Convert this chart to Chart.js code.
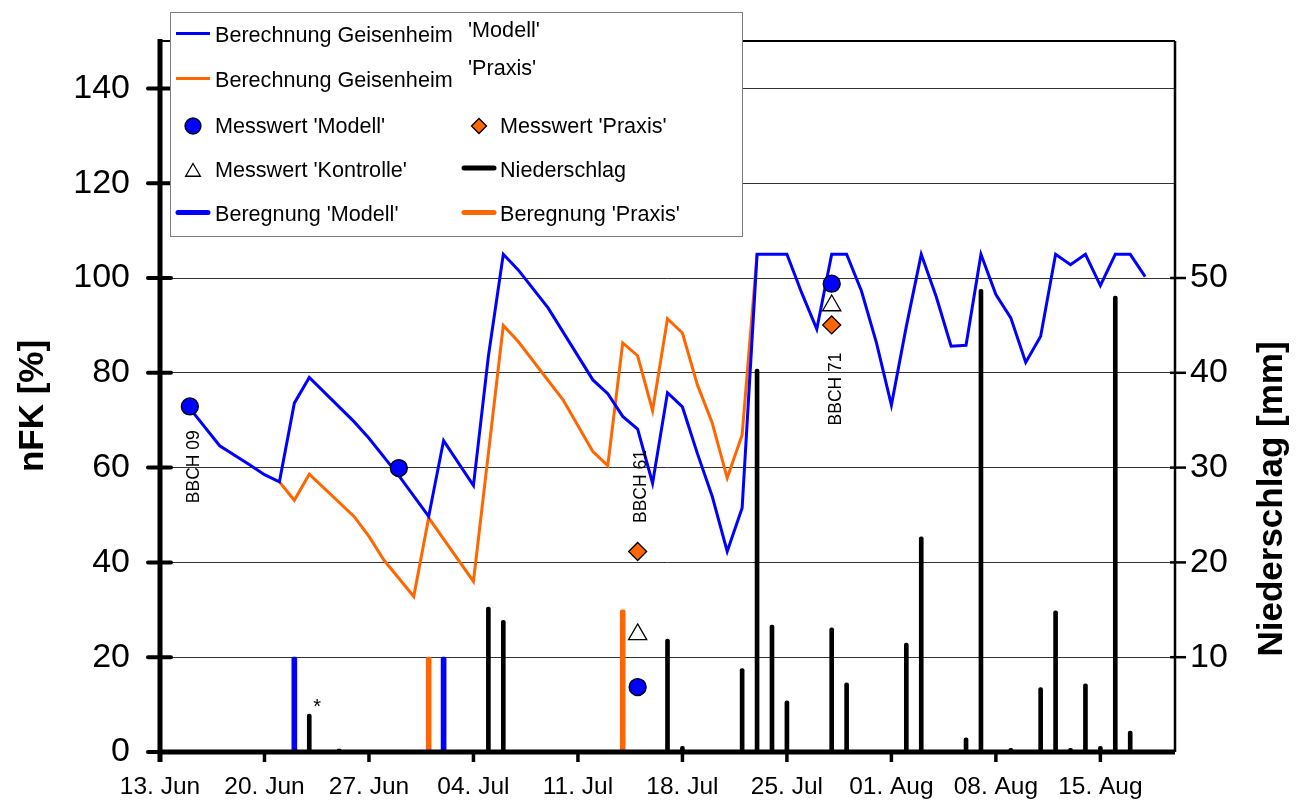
<!DOCTYPE html>
<html>
<head>
<meta charset="utf-8">
<script src="https://cdn.jsdelivr.net/npm/chart.js@4/dist/chart.umd.min.js"></script>
<style>
  html,body{margin:0;padding:0;background:#fff;}
  canvas{display:block;}
</style>
</head>
<body>
<canvas id="chart" width="1306" height="803"></canvas>
<script>
// x axis: days after 13. Jun, one label per week
const dateLabels = ['13. Jun','20. Jun','27. Jun','04. Jul','11. Jul','18. Jul','25. Jul','01. Aug','08. Aug','15. Aug'];
const nfkTicks = [0,20,40,60,80,100,120,140];
const mmTicks  = [10,20,30,40,50];

// Berechnung Geisenheim 'Modell' (nFK %)
const modellDays = [2,4,6,7,8,9,10,13,14,16,18,19,21,22,23,24,26,29,30,31,32,33,34,35,36,37,38,39,40,41,42,43,44,45,46,47,48,49,50,51,52,53,54,55,56,57,58,59,60,61,62,63,64,65,66];
const modellNfk  = [72.5,64.6,60.6,58.5,57,73.6,79,69.7,66.2,58.3,49.7,65.7,56.2,83.5,105,101.7,93.7,78.5,75.6,70.8,68.1,56.7,75.8,72.8,63,53.9,42.3,51.5,105,105,105,96.8,89.2,105,105,97.2,86.3,73.2,89.8,105,96.1,85.6,85.8,105,96.5,91.6,82.2,87.7,105,102.8,105,98.4,105,105,100.3];

// Berechnung Geisenheim 'Praxis' (nFK %)
const praxisDays = [8,9,10,13,14,15,17,18,21,23,24,27,29,30,31,32,33,34,35,36,37,38,39,40];
const praxisNfk  = [57,53.1,58.6,49.7,45.5,40.5,32.8,49.4,36,90,86.6,74.3,63.4,60.4,86.3,83.6,72,91.4,88.4,77.5,69.4,57.8,66.9,105];

// Messwerte (nFK %)
const messModellDays = [2,16,32,45];
const messModellNfk  = [72.9,59.9,13.7,98.8];
const messPraxisDays = [32,45];
const messPraxisNfk  = [42.3,90.1];
const messKontrDays  = [32,45];
const messKontrNfk   = [24.8,94.2];

// Niederschlag (mm)
const regenDays = [10,12,22,23,34,35,39,40,41,42,45,46,50,51,54,55,57,59,60,61,62,63,64,65];
const regenMm   = [4.0,0.3,15.3,13.9,11.9,0.6,8.8,40.4,13.4,5.4,13.1,7.3,11.5,22.7,1.5,48.8,0.4,6.8,14.9,0.4,7.2,0.6,48.1,2.2];

// Beregnung (mm)
const beregModellDays = [9,19];
const beregModellMm   = [10,10];
const beregPraxisDays = [18,31];
const beregPraxisMm   = [10,15];

// Entwicklungsstadien
const bbchText = ['BBCH 09','BBCH 61','BBCH 71'];
const bbchDays = [2,32,45];
const bbchNfk  = [60.2,56,76.6];

const FONT = '"Liberation Sans", Arial, Helvetica, sans-serif';
const BLUE = '#0000ff', ORANGE = '#ff6600';

const pts = (xs, ys) => xs.map((d,i) => ({x:d, y:ys[i]}));

function seg(ctx, x1, y1, x2, y2) {
  ctx.beginPath(); ctx.moveTo(x1,y1); ctx.lineTo(x2,y2); ctx.stroke();
}
function circle(ctx, x, y, r) {
  ctx.beginPath(); ctx.arc(x,y,r,0,Math.PI*2);
  ctx.fillStyle=BLUE; ctx.fill(); ctx.lineWidth=1.3; ctx.strokeStyle='#000'; ctx.stroke();
}
function diamond(ctx, x, y, r) {
  ctx.beginPath(); ctx.moveTo(x-r,y); ctx.lineTo(x,y-r); ctx.lineTo(x+r,y); ctx.lineTo(x,y+r); ctx.closePath();
  ctx.fillStyle=ORANGE; ctx.fill(); ctx.lineWidth=1.3; ctx.strokeStyle='#000'; ctx.stroke();
}
function triangle(ctx, x, y, r) {
  ctx.beginPath();
  for (let k=0;k<3;k++) {
    const a = k*2*Math.PI/3;
    const px = x + Math.sin(a)*r, py = y - Math.cos(a)*r;
    k ? ctx.lineTo(px,py) : ctx.moveTo(px,py);
  }
  ctx.closePath();
  ctx.fillStyle='#fff'; ctx.fill(); ctx.lineWidth=1.3; ctx.strokeStyle='#000'; ctx.stroke();
}
// fixed box sizes, no extra label overflow padding
const fixBox = (w, h) => s => {
  if (w) s.width = w;
  if (h) s.height = h;
  s.paddingTop = s.paddingBottom = s.paddingLeft = s.paddingRight = 0;
};

const deco = {
  id: 'deco',
  afterDatasetsDraw(chart) {
    const {ctx, chartArea:a, scales:{x, y, y2}} = chart;
    ctx.save();
    ctx.strokeStyle = '#000';
    // frame top + right axis
    ctx.lineCap = 'butt';
    ctx.lineWidth = 2; seg(ctx, a.left, a.top, a.right, a.top);
    ctx.lineWidth = 2.5; seg(ctx, a.right, a.top, a.right, a.bottom);
    y2.ticks.forEach(t => { const p = y2.getPixelForValue(t.value); seg(ctx, a.right-5, p, a.right+11, p); });
    // left axis
    ctx.lineWidth = 5; seg(ctx, a.left, a.top-2, a.left, a.bottom+10);
    ctx.lineCap = 'round'; ctx.lineWidth = 4;
    y.ticks.forEach(t => { const p = y.getPixelForValue(t.value); seg(ctx, a.left-12, p, a.left+11, p); });
    // bottom axis
    ctx.lineCap = 'butt'; ctx.lineWidth = 5; seg(ctx, a.left, a.bottom, a.right, a.bottom);
    ctx.lineWidth = 3.5;
    x.ticks.forEach(t => { const p = x.getPixelForValue(t.value); seg(ctx, p, a.bottom, p, a.bottom+10); });

    // BBCH labels
    ctx.fillStyle = '#000';
    ctx.font = '17.5px ' + FONT;
    ctx.textAlign = 'center'; ctx.textBaseline = 'middle';
    bbchText.forEach((s,i) => {
      ctx.save();
      ctx.translate(x.getPixelForValue(bbchDays[i]) + 3, y.getPixelForValue(bbchNfk[i]));
      ctx.rotate(-Math.PI/2);
      ctx.fillText(s, 0, 1);
      ctx.restore();
    });
    // asterisk on first rain event
    ctx.font = '20px ' + FONT; ctx.textBaseline = 'alphabetic';
    ctx.fillText('*', x.getPixelForValue(regenDays[0]) + 8, y2.getPixelForValue(regenMm[0]) - 1);

    // axis titles
    ctx.font = 'bold 35px ' + FONT; ctx.textBaseline = 'middle';
    ctx.save(); ctx.translate(33, 406); ctx.rotate(-Math.PI/2); ctx.fillText('nFK [%]', 0, 0); ctx.restore();
    ctx.save(); ctx.translate(1272, 499); ctx.rotate(-Math.PI/2); ctx.fillText('Niederschlag [mm]', 0, 0); ctx.restore();

    // legend box
    ctx.fillStyle = '#fff'; ctx.fillRect(170.5, 12.5, 572, 224);
    ctx.strokeStyle = '#808080'; ctx.lineWidth = 1; ctx.strokeRect(170.5, 12.5, 572, 224);
    ctx.lineCap = 'butt';
    ctx.strokeStyle = BLUE; ctx.lineWidth = 3; seg(ctx, 176, 33.5, 210, 33.5);
    ctx.strokeStyle = ORANGE; seg(ctx, 176, 78.5, 210, 78.5);
    ctx.lineCap = 'round'; ctx.lineWidth = 5;
    ctx.strokeStyle = '#000'; seg(ctx, 464, 168, 494, 168);
    ctx.strokeStyle = BLUE; seg(ctx, 178, 212.5, 208, 212.5);
    ctx.strokeStyle = ORANGE; seg(ctx, 464, 212.5, 494, 212.5);
    circle(ctx, 193, 126, 8);
    diamond(ctx, 479, 126, 7.5);
    triangle(ctx, 193, 172, 8.5);
    ctx.fillStyle = '#000'; ctx.font = '21.6px ' + FONT; ctx.textAlign = 'left'; ctx.textBaseline = 'alphabetic';
    ctx.fillText('Berechnung Geisenheim', 215, 42);
    ctx.fillText("'Modell'", 468, 37);
    ctx.fillText('Berechnung Geisenheim', 215, 87);
    ctx.fillText("'Praxis'", 468, 75);
    ctx.fillText("Messwert 'Modell'", 215, 132.5);
    ctx.fillText("Messwert 'Praxis'", 500, 132.5);
    ctx.fillText("Messwert 'Kontrolle'", 215, 177);
    ctx.fillText('Niederschlag', 500, 177);
    ctx.fillText("Beregnung 'Modell'", 215, 221);
    ctx.fillText("Beregnung 'Praxis'", 500, 221);
    ctx.restore();
  }
};

const barDs = (label, xs, ys, color, w) => ({
  type:'bar', label, data: pts(xs, ys), yAxisID:'y2', backgroundColor: color,
  barThickness: w, grouped: false, borderRadius: 2, borderSkipped: 'start', order: 3
});
const markDs = (label, xs, ys, style, r, fill) => ({
  type:'line', label, data: pts(xs, ys), showLine:false, pointStyle: style, pointRadius: r,
  backgroundColor: fill, borderColor:'#000', pointBorderWidth: 1.3, order: 0
});

new Chart(document.getElementById('chart'), {
  type: 'line',
  data: {
    datasets: [
      markDs("Messwert 'Modell'", messModellDays, messModellNfk, 'circle', 8.5, BLUE),
      markDs("Messwert 'Praxis'", messPraxisDays, messPraxisNfk, 'rectRot', 9, ORANGE),
      markDs("Messwert 'Kontrolle'", messKontrDays, messKontrNfk, 'triangle', 10.5, '#fff'),
      { label:"Berechnung Geisenheim 'Modell'", data: pts(modellDays, modellNfk), borderColor: BLUE,
        borderWidth: 3, pointRadius: 0, tension: 0, fill: false, order: 1 },
      { label:"Berechnung Geisenheim 'Praxis'", data: pts(praxisDays, praxisNfk), borderColor: ORANGE,
        borderWidth: 3, pointRadius: 0, tension: 0, fill: false, order: 2 },
      barDs('Niederschlag', regenDays, regenMm, '#000', 4),
      barDs("Beregnung 'Modell'", beregModellDays, beregModellMm, BLUE, 5),
      barDs("Beregnung 'Praxis'", beregPraxisDays, beregPraxisMm, ORANGE, 5)
    ]
  },
  options: {
    responsive: false, animation: false, devicePixelRatio: 1, events: [],
    layout: { padding: { top: 41, left: 0, right: 0, bottom: 0 } },
    plugins: { legend: { display: false }, tooltip: { enabled: false } },
    scales: {
      x: {
        type: 'linear', min: 0, max: 68, offset: false,
        afterBuildTicks: s => { s.ticks = dateLabels.map((_, i) => ({ value: i * 7 })); },
        afterFit: fixBox(0, 51),
        ticks: { autoSkip: false, maxRotation: 0, padding: 21, color: '#000',
                 font: { size: 24.5, family: FONT }, callback: (v, i) => dateLabels[i] },
        grid: { display: false, drawTicks: false }, border: { display: false }
      },
      y: {
        position: 'left', min: 0, max: 150,
        afterBuildTicks: s => { s.ticks = nfkTicks.map(v => ({ value: v })); },
        afterFit: fixBox(160, 0),
        ticks: { padding: 30, color: '#000', font: { size: 34, family: FONT } },
        grid: { color: '#333', lineWidth: 1, drawTicks: false }, border: { display: false }
      },
      y2: {
        position: 'right', min: 0, max: 75,
        afterBuildTicks: s => { s.ticks = mmTicks.map(v => ({ value: v })); },
        afterFit: fixBox(131, 0),
        ticks: { padding: 15, color: '#000', font: { size: 34, family: FONT } },
        grid: { display: false, drawTicks: false }, border: { display: false }
      }
    }
  },
  plugins: [deco]
});
</script>
</body>
</html>
